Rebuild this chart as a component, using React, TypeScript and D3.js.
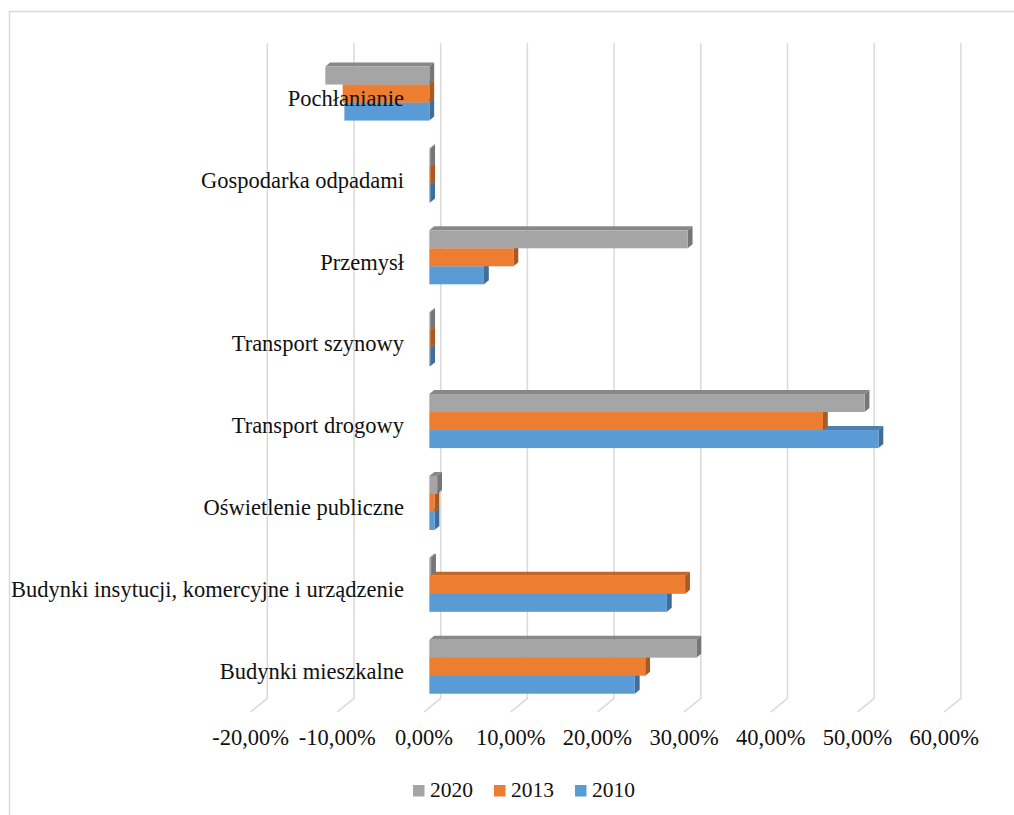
import React from "react";
import * as d3 from "d3";

// Emission share by sector (percent), three reference years
const categories = [
  "Pochłanianie",
  "Gospodarka odpadami",
  "Przemysł",
  "Transport szynowy",
  "Transport drogowy",
  "Oświetlenie publiczne",
  "Budynki insytucji, komercyjne i urządzenie",
  "Budynki mieszkalne",
];
const seriesNames = ["2020", "2013", "2010"];
const values2020 = [-12.0, 0.1, 29.8, 0.1, 50.2, 0.9, 0.2, 30.8];
const values2013 = [-10.0, 0.1, 9.7, 0.1, 45.4, 0.6, 29.5, 24.9];
const values2010 = [-9.8, 0.1, 6.3, 0.1, 51.8, 0.6, 27.4, 23.7];
const seriesColors = ["#a5a5a5", "#ed7d31", "#5b9bd5"];
const tickValues = [-20, -10, 0, 10, 20, 30, 40, 50, 60];

const W = 1014;
const H = 815;
const FONT = "'Liberation Serif', 'Times New Roman', serif";

// Projection of the chart's depth axis (front plane -> back wall)
const DEPTH = { x: 16.7, y: -13.7 };
const BAR_Z0 = 0.32;
const BAR_Z1 = 0.61;

const plotTop = 57;
const plotBottom = 712;

const x = d3.scaleLinear().domain([-20, 60]).range([250.6, 944.2]);
const y = d3
  .scaleBand<string>()
  .domain(categories)
  .range([plotTop, plotBottom])
  .paddingInner(0.34)
  .paddingOuter(0.17);
const ySub = d3.scaleBand<string>().domain(seriesNames).range([0, y.bandwidth()]);

const fmt = (v: number) => v.toFixed(2).replace(".", ",") + "%";

function Bar({ v, y0, h, color }: { v: number; y0: number; h: number; color: string }) {
  const ox = BAR_Z0 * DEPTH.x;
  const oy = BAR_Z0 * DEPTH.y;
  const dx = (BAR_Z1 - BAR_Z0) * DEPTH.x;
  const dy = (BAR_Z1 - BAR_Z0) * DEPTH.y;
  const xl = x(Math.min(0, v)) + ox;
  const xr = x(Math.max(0, v)) + ox;
  const yt = y0 + oy;
  const yb = y0 + h + oy;
  const c = d3.color(color)!;
  const topCol = c.darker(0.55).toString();
  const sideCol = c.darker(0.95).toString();
  const pts = (a: number[][]) => a.map((p) => p.join(",")).join(" ");
  return (
    <g>
      <polygon
        points={pts([[xl, yt], [xr, yt], [xr + dx, yt + dy], [xl + dx, yt + dy]])}
        fill={topCol}
      />
      <polygon
        points={pts([[xr, yt], [xr + dx, yt + dy], [xr + dx, yb + dy], [xr, yb]])}
        fill={sideCol}
      />
      <rect x={xl} y={yt} width={Math.max(0, xr - xl)} height={h} fill={color} />
    </g>
  );
}

export default function App() {
  const series = [values2020, values2013, values2010];
  const backBottom = plotBottom + DEPTH.y;
  const backTop = plotTop + DEPTH.y;
  return (
    <svg
      width={W}
      height={H}
      style={{ position: "absolute", left: 0, top: 0, background: "#fff" }}
      fontFamily={FONT}
    >
      <rect x={0} y={0} width={W} height={H} fill="#fff" />
      <rect x={9.5} y={11.5} width={W + 20} height={H + 20} fill="none" stroke="#d9d9d9" strokeWidth={1.5} />

      {/* back-wall gridlines and floor edges */}
      {tickValues.map((t) => (
        <g key={t}>
          <polyline
            points={`${x(t) + DEPTH.x},${backTop} ${x(t) + DEPTH.x},${backBottom} ${x(t)},${plotBottom}`}
            fill="none"
            stroke="#d9d9d9"
            strokeWidth={1.5}
          />
        </g>
      ))}

      {/* bars: lower series first so upper fronts overlap their tops */}
      {categories.map((cat, ci) => (
        <g key={cat}>
          {[2, 1, 0].map((si) => (
            <Bar
              key={si}
              v={series[si][ci]}
              y0={(y(cat) ?? 0) + (ySub(seriesNames[si]) ?? 0)}
              h={ySub.bandwidth()}
              color={seriesColors[si]}
            />
          ))}
        </g>
      ))}

      {/* category labels */}
      {categories.map((cat) => (
        <text
          key={cat}
          x={404}
          y={(y(cat) ?? 0) + y.bandwidth() / 2}
          dy="0.35em"
          textAnchor="end"
          fontSize={22.5}
          fill="#111"
        >
          {cat}
        </text>
      ))}

      {/* value axis labels */}
      {tickValues.map((t) => (
        <text key={t} x={x(t)} y={745} textAnchor="middle" fontSize={22.5} fill="#111">
          {fmt(t)}
        </text>
      ))}

      {/* legend */}
      {seriesNames.map((name, i) => {
        const lx = 413 + i * 81;
        return (
          <g key={name}>
            <rect x={lx} y={785} width={11.5} height={11.5} fill={seriesColors[i]} />
            <text x={lx + 17} y={797} fontSize={21.5} fill="#111">
              {name}
            </text>
          </g>
        );
      })}
    </svg>
  );
}
